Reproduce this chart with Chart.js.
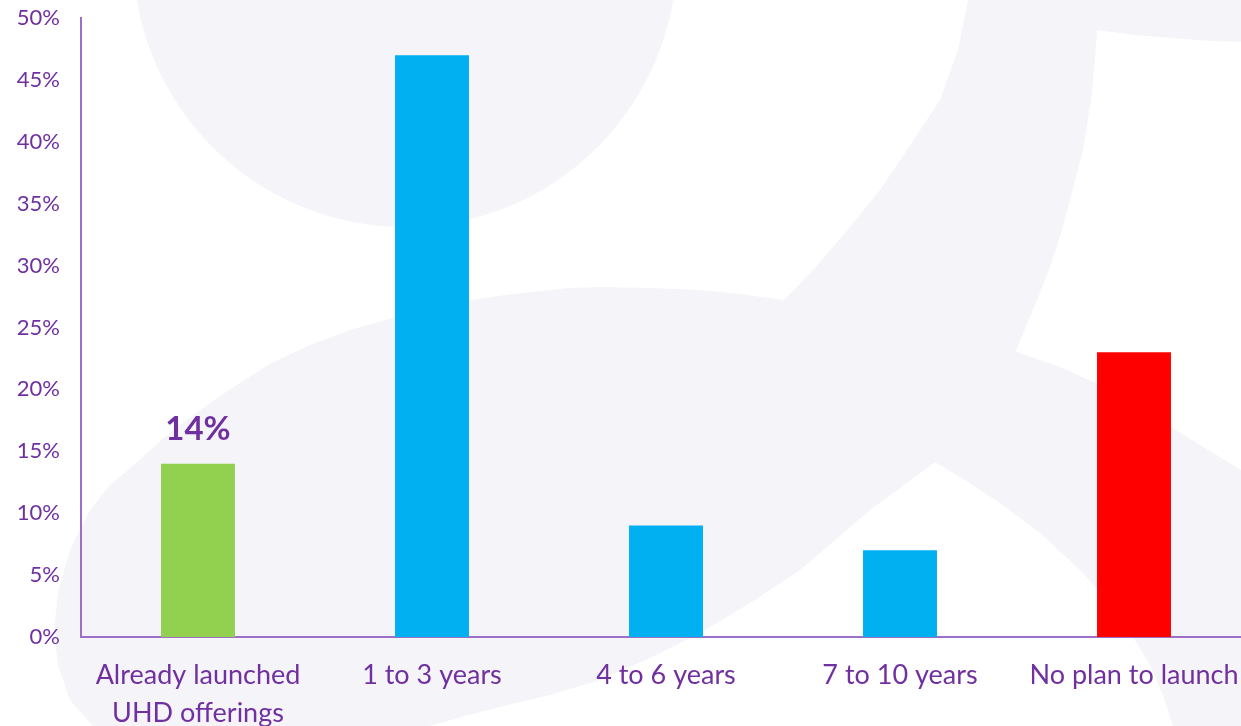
<!DOCTYPE html>
<html>
<head>
<meta charset="utf-8">
<script src="https://cdn.jsdelivr.net/npm/chart.js@4.4.1/dist/chart.umd.min.js"></script>
<style>
  html, body { margin: 0; padding: 0; background: #fff; }
  #wrap { width: 1241px; height: 726px; overflow: hidden; }
</style>
</head>
<body>
<div id="wrap"><canvas id="uhdChart" width="1251" height="726"></canvas></div>
<script>
// ── Data ─────────────────────────────────────────────
const categories = [['Already launched', 'UHD offerings'], '1 to 3 years', '4 to 6 years', '7 to 10 years', 'No plan to launch'];
const shares     = [14, 47, 9, 7, 23];
const barColors  = ['#92d050', '#00b0f0', '#00b0f0', '#00b0f0', '#ff0000'];
const labelled   = [true, false, false, false, false];
const yMax  = 50;
const yStep = 5;

const PURPLE = '#7030a0';
const AXIS   = '#9d70c8';
const WASH   = '#f5f4f8';
const FONT   = 'Lato, "Noto Sans", sans-serif';

// ── Pale logo shapes behind the plot ─────────────────
const bowlTop = { x: 405, y: -45, r: 272 };
const stroke = [
  [968,0],[958,50],[940,100],[907,150],[880,190],[845,233],[815,268],[784,300],
  [900,330],[1015,353],[1035,305],[1050,267],[1062,230],[1070,200],[1083,150],
  [1091,100],[1095,60],[1097,30],[1135,35],[1172,38],[1210,41],[1251,42],[1251,0]
];
const bigLoop = [
  [93,726],[70,700],[58,665],[54,630],[58,592],[70,550],[90,510],[110,485],[134,465],
  [165,437],[200,410],[235,386],[268,365],[310,345],[350,330],[400,316],[446,305],
  [490,297],[530,292],[570,288],[600,287],[650,288],[700,290],[740,294],[784,300],
  [900,322],[1017,352],[1060,367],[1100,385],[1140,406],[1172,428],[1205,448],
  [1251,476],[1251,726],[1173,726],[1163,695],[1150,665],[1133,637],[1110,603],
  [1080,570],[1040,533],[1000,503],[965,480],[935,462],[900,488],[870,510],
  [835,540],[800,570],[750,603],[700,633],[650,658],[600,680],[550,695],
  [500,707],[465,716],[430,726]
];

function poly(ctx, pts) {
  ctx.beginPath();
  pts.forEach(([x, y], i) => i ? ctx.lineTo(x, y) : ctx.moveTo(x, y));
  ctx.closePath();
  ctx.fill();
}

const watermark = {
  id: 'watermark',
  beforeDraw(chart) {
    const { ctx, width, height } = chart;
    ctx.save();
    ctx.fillStyle = '#fff';
    ctx.fillRect(0, 0, width, height);
    ctx.fillStyle = WASH;
    ctx.beginPath();
    ctx.arc(bowlTop.x, bowlTop.y, bowlTop.r, 0, Math.PI * 2);
    ctx.fill();
    poly(ctx, stroke);
    poly(ctx, bigLoop);
    ctx.restore();
  }
};

// value above the flagged bars
const valueLabel = {
  id: 'valueLabel',
  afterDatasetsDraw(chart) {
    const { ctx } = chart;
    const meta = chart.getDatasetMeta(0);
    ctx.save();
    ctx.fillStyle = PURPLE;
    ctx.font = 'bold 33px ' + FONT;
    ctx.textAlign = 'center';
    ctx.textBaseline = 'middle';
    meta.data.forEach((bar, i) => {
      if (!labelled[i]) return;
      ctx.fillText(shares[i] + '%', bar.x, bar.y - 34);
    });
    ctx.restore();
  }
};

new Chart(document.getElementById('uhdChart'), {
  type: 'bar',
  data: {
    labels: categories,
    datasets: [{
      data: shares,
      backgroundColor: barColors,
      borderWidth: 0,
      barPercentage: 0.316,
      categoryPercentage: 1
    }]
  },
  options: {
    responsive: false,
    animation: false,
    devicePixelRatio: 1,
    layout: { padding: { top: 18, right: 0, bottom: 0, left: 0 } },
    plugins: {
      legend: { display: false },
      tooltip: { enabled: false }
    },
    scales: {
      y: {
        min: 0, max: yMax,
        ticks: {
          stepSize: yStep,
          callback: v => v + '%',
          color: PURPLE,
          font: { family: FONT, size: 22 },
          padding: 21
        },
        grid: { display: false, drawTicks: false },
        border: { display: true, color: AXIS, width: 2 },
        afterFit: s => { s.width = 81; s.paddingTop = 0; }
      },
      x: {
        ticks: {
          color: PURPLE,
          font: { family: FONT, size: 27, lineHeight: 1.38 },
          padding: 20,
          autoSkip: false,
          maxRotation: 0
        },
        grid: { display: false, drawTicks: false },
        border: { display: true, color: AXIS, width: 2 },
        afterFit: s => { s.height = 89; s.paddingRight = 0; s.paddingLeft = 0; }
      }
    }
  },
  plugins: [watermark, valueLabel]
});
</script>
</body>
</html>
